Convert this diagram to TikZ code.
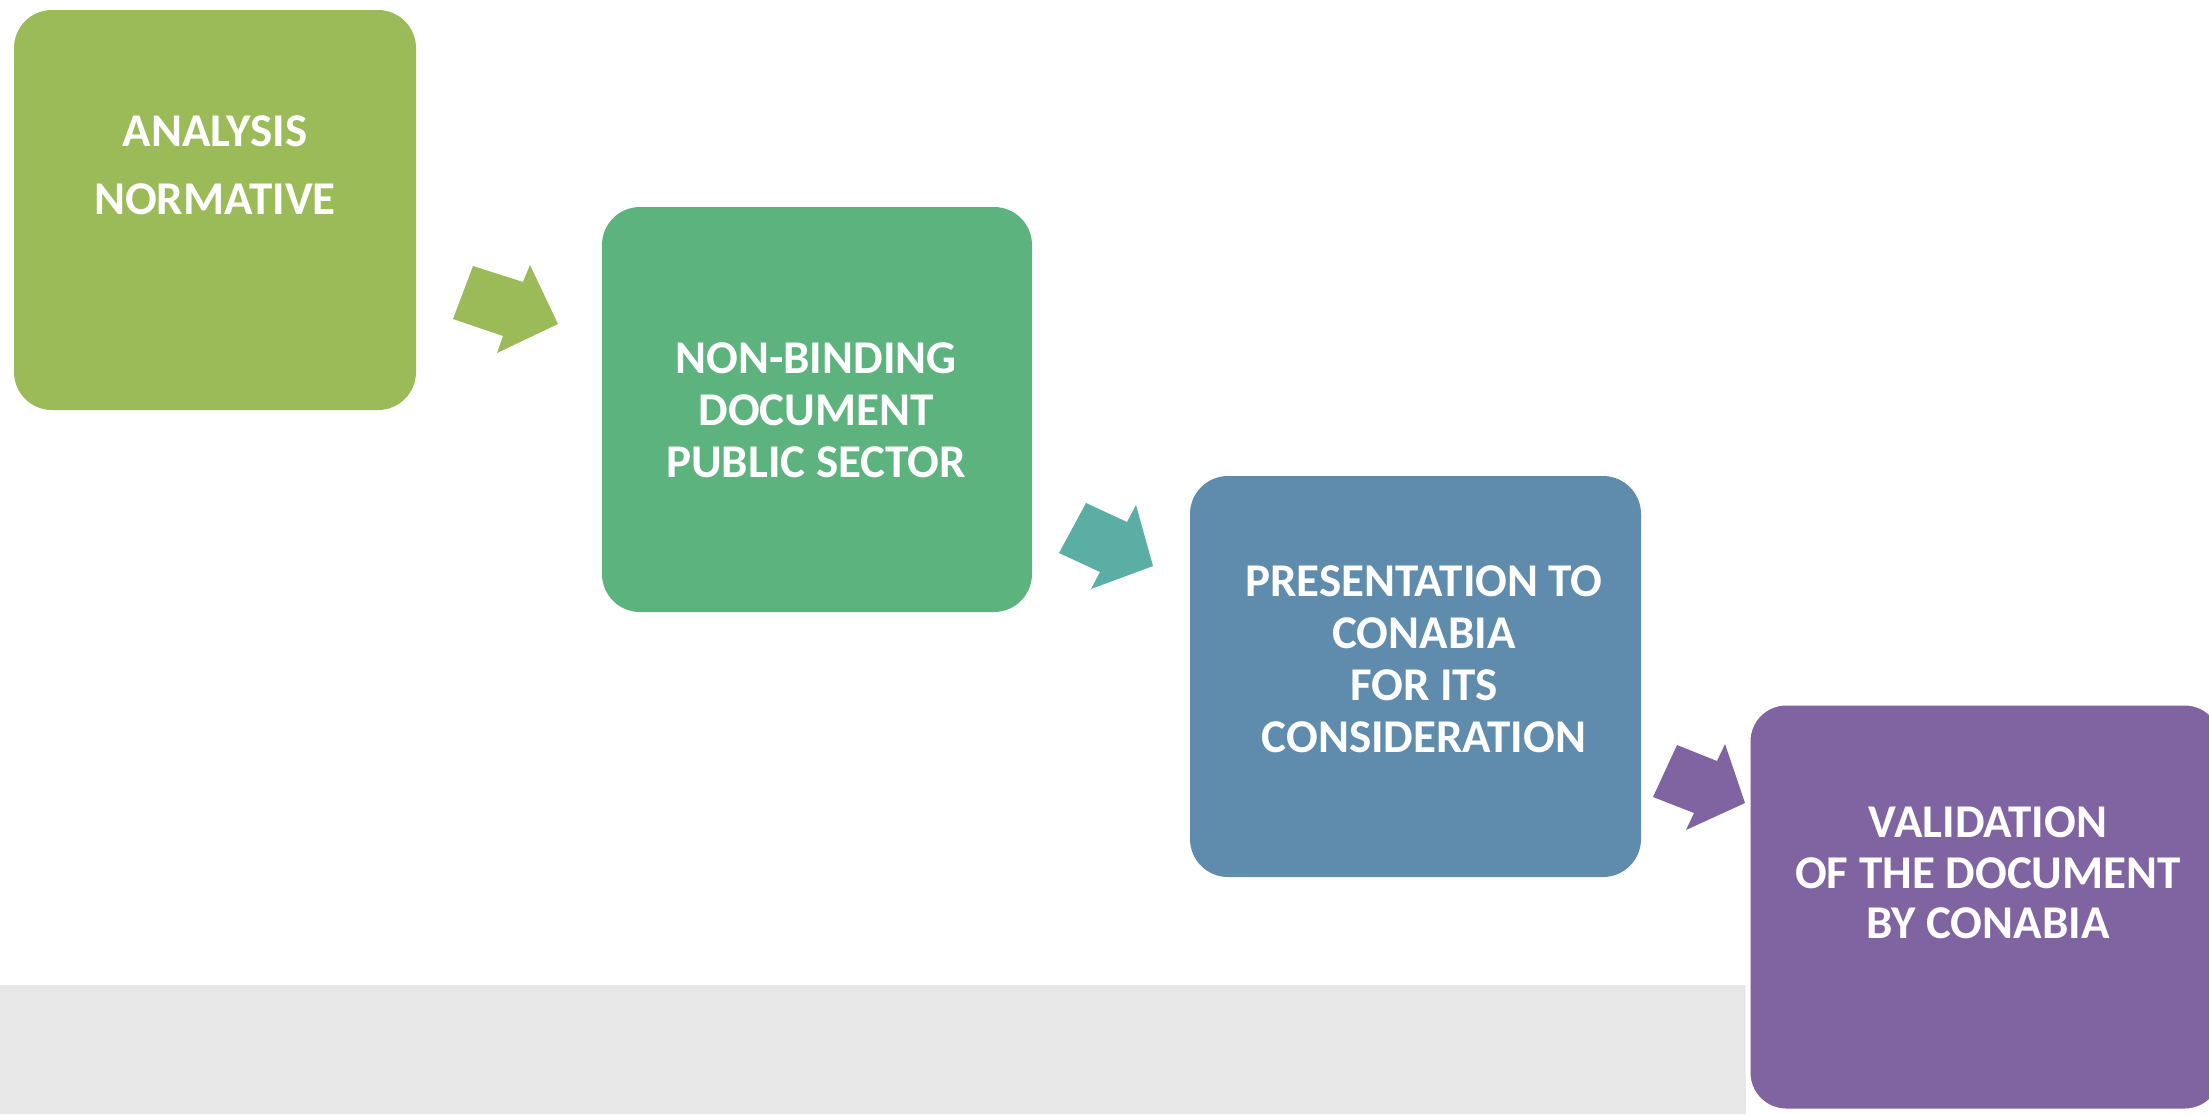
\documentclass[tikz,border=0pt]{standalone}
\usepackage{fontspec}
\setmainfont{Carlito}
\definecolor{cA}{HTML}{9BBB59}
\definecolor{cB}{HTML}{5DB37E}
\definecolor{cC}{HTML}{5F8BAD}
\definecolor{cD}{HTML}{8064A2}
\definecolor{cT}{HTML}{5BAEA3}
\definecolor{cG}{HTML}{E7E7E7}
\begin{document}
\begin{tikzpicture}[x=1pt,y=-1pt,
  box/.style={rectangle, rounded corners=38pt, inner sep=0pt, outer sep=0pt, anchor=north west},
  lbl/.style={text=white, font=\fontsize{47}{52}\selectfont\bfseries, align=center, inner sep=0pt}]
\useasboundingbox (0,0) rectangle (2209,1114);
\clip (0,0) rectangle (2209,1114);
\fill[cG] (0,985) rectangle (1746,1114);
\node[box, fill=cA, minimum width=402pt, minimum height=400pt] (b1) at (14,10) {};
\node[box, fill=cB, minimum width=430pt, minimum height=405pt] (b2) at (602,207) {};
\node[box, fill=cC, minimum width=451pt, minimum height=401pt] (b3) at (1190,476) {};
\node[box, fill=cD, draw=white, line width=5pt, minimum width=475pt, minimum height=408pt] (b4) at (1748,703) {};
\fill[cA] (473,266) -- (523,282) -- (530,265) -- (558,324) -- (497,353) -- (503,336) -- (453,319) -- cycle;
\fill[cT] (1086,503) -- (1127,522) -- (1136,505) -- (1153,566) -- (1091,589) -- (1100,572) -- (1059,553) -- cycle;
\fill[cD] (1677,745) -- (1717,761) -- (1725,744) -- (1745,803) -- (1686,830) -- (1694,813) -- (1653,797) -- cycle;
\node[lbl, font=\fontsize{47}{68}\selectfont\bfseries] (t1) at (215,165.5) {ANALYSIS\\NORMATIVE};
\node[lbl] (t2) at (816,410) {NON-BINDING\\DOCUMENT\\PUBLIC SECTOR};
\node[lbl] (t3) at (1424,659.5) {PRESENTATION TO\\CONABIA\\FOR ITS\\CONSIDERATION};
\node[lbl, font=\fontsize{47}{50.5}\selectfont\bfseries] (t4) at (1988,873) {VALIDATION\\OF THE DOCUMENT\\BY CONABIA};
\end{tikzpicture}
\end{document}
